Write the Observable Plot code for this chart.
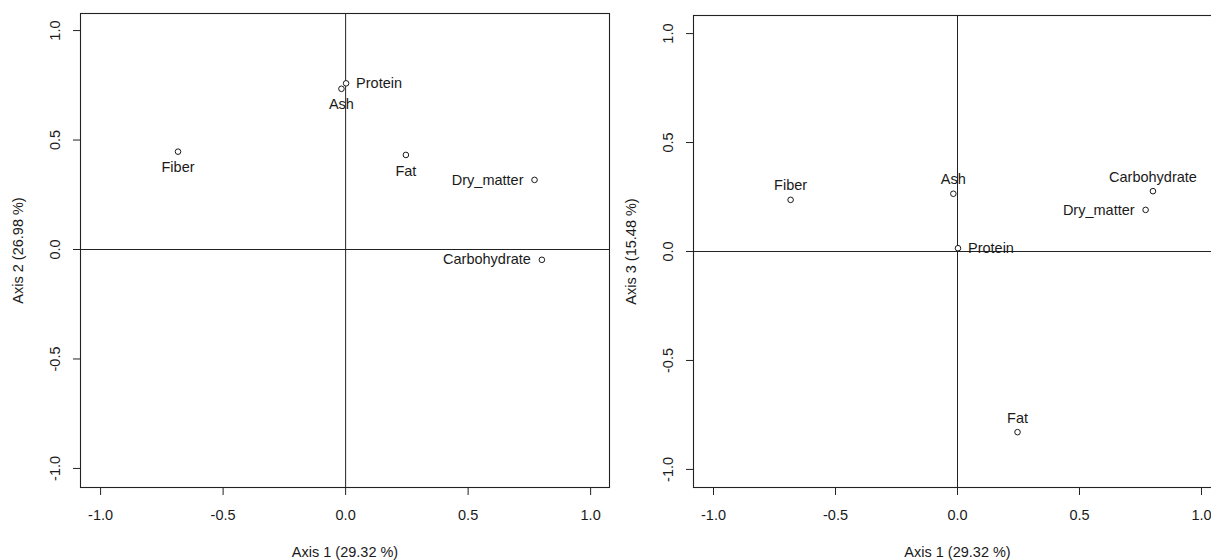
<!DOCTYPE html>
<html><head><meta charset="utf-8">
<script src="https://cdn.jsdelivr.net/npm/d3@7"></script>
<script src="https://cdn.jsdelivr.net/npm/@observablehq/plot@0.6"></script>
<style>
html,body{margin:0;padding:0;background:#fff;overflow:hidden;width:1211px;height:560px}
#wrap{position:relative;width:1211px;height:560px;overflow:hidden}
#p1{position:absolute;left:0;top:0;width:612px;height:560px}
#p2{position:absolute;left:612px;top:0;width:612px;height:560px}
#p1 svg,#p2 svg{max-width:none !important;width:612px;height:560px}
</style></head><body><div id="wrap"><div id="p1"></div><div id="p2"></div></div>
<script>
const variables = ["Fiber", "Protein", "Ash", "Fat", "Dry_matter", "Carbohydrate"];
const axis1 = [-0.684, 0.002, -0.017, 0.246, 0.771, 0.801];
const axis2 = [0.447, 0.759, 0.734, 0.432, 0.318, -0.047];
const axis3 = [0.237, 0.015, 0.265, -0.829, 0.191, 0.277];
const labelPos12 = ["below", "right", "below", "below", "left", "left"];
const labelPos13 = ["above", "right", "above", "above", "left", "above"];
const xTicks = [-1, -0.5, 0, 0.5, 1];
const yTicks = [-1, -0.5, 0, 0.5, 1];
const xTitle = "Axis 1 (29.32 %)";
const yTitle2 = "Axis 2 (26.98 %)";
const yTitle3 = "Axis 3 (15.48 %)";

const font = '"Liberation Sans", Arial, sans-serif';
const fmt = d => d.toFixed(1);
const ink = "#1a1a1a";

function panel(yvals, positions, yTitle, cfg) {
  const data = variables.map((v, i) => ({name: v, x: axis1[i], y: yvals[i], pos: positions[i]}));
  const textOpts = {x: "x", y: "y", text: "name", fill: ink, fontSize: 14.5};
  return Plot.plot({
    width: 612, height: 560,
    marginLeft: cfg.ml, marginRight: 3, marginTop: cfg.mt, marginBottom: 73,
    x: {domain: cfg.xd},
    y: {domain: cfg.yd},
    style: {fontFamily: font, fontSize: "14.5px", color: ink, background: "white", overflow: "visible"},
    marks: [
      Plot.frame({stroke: "#222", strokeWidth: 1.1}),
      Plot.ruleX([0], {stroke: "#222"}),
      Plot.ruleY([0], {stroke: "#222"}),
      Plot.axisX({ticks: xTicks, tickFormat: fmt, tickSize: 8, tickPadding: 14,
        label: xTitle, labelAnchor: "center", labelArrow: "none", labelOffset: 69, stroke: "#222"}),
      Plot.axisY({ticks: yTicks, tickFormat: fmt, tickSize: 7, tickPadding: 14, tickRotate: -90,
        label: yTitle, labelAnchor: "center", labelArrow: "none", labelOffset: 68, stroke: "#222"}),
      Plot.dot(data, {x: "x", y: "y", r: 2.8, stroke: ink, strokeWidth: 1, fill: "white"}),
      Plot.text(data.filter(d => d.pos === "below"), {...textOpts, dy: 16}),
      Plot.text(data.filter(d => d.pos === "above"), {...textOpts, dy: -14}),
      Plot.text(data.filter(d => d.pos === "left"), {...textOpts, dx: -11, textAnchor: "end"}),
      Plot.text(data.filter(d => d.pos === "right"), {...textOpts, dx: 10, textAnchor: "start"})
    ]
  });
}

document.getElementById("p1").append(panel(axis2, labelPos12, yTitle2,
  {ml: 80, mt: 13, xd: [-1.082, 1.077], yd: [-1.087, 1.078]}));
document.getElementById("p2").append(panel(axis3, labelPos13, yTitle3,
  {ml: 81, mt: 15, xd: [-1.082, 1.082], yd: [-1.083, 1.083]}));
</script>
</body></html>
